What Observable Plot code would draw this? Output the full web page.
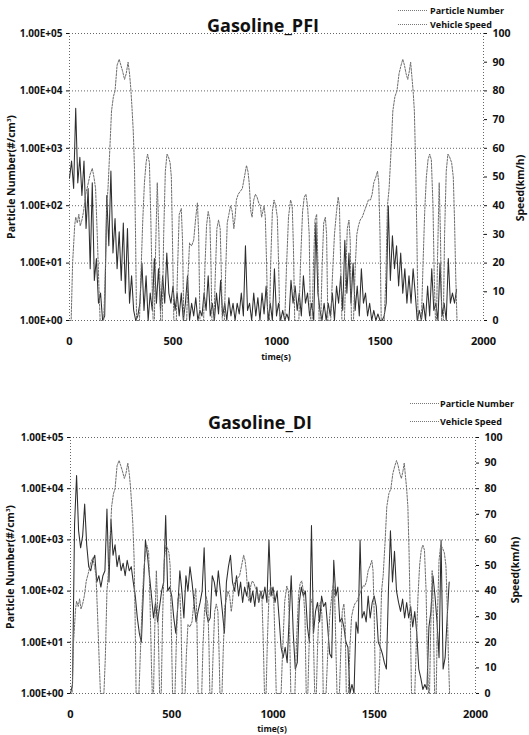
<!DOCTYPE html>
<html><head><meta charset="utf-8">
<script src="https://cdn.jsdelivr.net/npm/d3@7"></script>
<script src="https://cdn.jsdelivr.net/npm/@observablehq/plot@0.6"></script>
<style>
body{margin:0;background:#fff;}
#root{position:relative;width:529px;height:735px;overflow:hidden;font-family:"Open Sans",sans-serif;color:#111;}
.t{position:absolute;font-weight:700;white-space:nowrap;line-height:1;}
.c{transform:translate(-50%,-50%);}
.r{transform:translate(-50%,-50%) rotate(-90deg);}
.lg{position:absolute;height:0;border-top:1.5px dotted #777;}
</style></head><body><div id="root"></div>
<script>
// ---- data ----
const titles = ["Gasoline_PFI", "Gasoline_DI"];
const pnTicks = [1, 10, 100, 1000, 10000, 100000];
const speedTicks = [0, 10, 20, 30, 40, 50, 60, 70, 80, 90, 100];
const timeTicks = [0, 500, 1000, 1500, 2000];

// vehicle speed (km/h) breakpoints: [time s, speed]
const speedTrace = [
 [0,0],[8,0],[15,20],[25,33],[30,36],[38,34],[45,37],[52,33],[60,35],[68,38],[78,44],[88,47],[100,51],[110,53],[118,50],[126,46],[134,30],[142,12],[148,0],
 [165,0],[172,14],[180,40],[186,46],[195,60],[203,73],[212,78],[220,80],[230,89],[240,91],[248,89],[256,87],[266,84],[274,86],[283,90],[290,86],[296,81],[302,74],[308,66],[314,53],[319,30],[324,0],
 [338,0],[346,18],[354,35],[362,48],[370,55],[377,58],[386,55],[393,35],[400,10],[404,0],
 [410,0],[416,25],[424,48],[432,30],[440,0],
 [448,0],[455,30],[463,52],[471,58],[478,57],[486,55],[492,50],[497,30],[504,0],
 [516,0],[522,18],[530,37],[540,39],[546,28],[552,0],
 [566,0],[572,15],[580,27],[590,26],[600,28],[610,36],[618,41],[624,30],[630,0],
 [648,0],[654,18],[662,33],[670,38],[678,35],[684,18],[688,0],
 [698,0],[704,15],[712,32],[720,35],[728,32],[734,15],[738,0],
 [748,0],[754,16],[762,34],[770,37],[778,40],[786,38],[794,32],[800,36],[806,42],[815,44],[825,45],[835,46],[845,50],[855,54],[862,52],[868,48],[876,38],[882,36],[890,42],[898,44],[906,43],[914,41],[922,40],[928,36],[934,38],[940,40],[946,36],[952,20],[958,0],
 [966,0],[972,20],[980,38],[988,42],[996,40],[1004,36],[1010,20],[1016,0],
 [1040,0],[1048,18],[1058,36],[1068,42],[1076,40],[1082,25],[1088,0],
 [1108,0],[1116,20],[1126,38],[1134,43],[1142,44],[1150,40],[1158,30],[1164,0],
 [1172,0],[1178,18],[1186,35],[1194,37],[1200,20],[1206,0],
 [1214,0],[1220,18],[1228,34],[1236,36],[1242,30],[1248,0],
 [1262,0],[1270,15],[1280,30],[1290,38],[1298,43],[1304,40],[1310,20],[1316,0],
 [1328,0],[1334,15],[1342,32],[1350,35],[1356,28],[1362,0],
 [1372,0],[1380,18],[1388,30],[1396,33],[1404,35],[1414,36],[1424,38],[1434,40],[1444,42],[1454,42],[1462,44],[1470,48],[1480,50],[1488,52],[1494,48],[1500,30],[1506,0],
 [1520,0],[1528,14],[1536,40],[1544,46],[1554,60],[1562,73],[1572,78],[1582,80],[1592,86],[1602,89],[1610,91],[1618,89],[1626,86],[1634,84],[1642,87],[1648,90],[1654,85],[1660,80],[1666,73],[1672,55],[1678,30],[1684,0],
 [1700,0],[1708,20],[1716,38],[1724,50],[1732,56],[1740,58],[1748,56],[1756,40],[1762,15],[1768,0],
 [1773,0],[1778,22],[1786,48],[1792,30],[1798,0],
 [1806,0],[1812,30],[1820,52],[1828,58],[1836,57],[1846,55],[1854,50],[1860,35],[1866,15],[1872,0]
];

// particle number (#/cm3), one value every 10 s starting at 0 s
const pnPFI = [
 300,600,200,5000,250,700,150,600,40,200,
 8,250,5,12,2,3,1,1.2,150,20,
 400,15,60,8,35,5,50,3,40,2,
 6,1.5,1,1.2,2,10,1.5,6,1,3,
 1.5,12,2,8,1.5,6,2,15,3,2,
 4,1.5,3,1.2,3,1,2,6,1,2,
 1.2,2.5,1,1.5,1.2,3,1.5,6,1.2,2,
 1,3,1.3,5,1.2,2,1,2.5,1.2,2,
 1,2,1.3,3,1.2,20,1.5,2,1,3,
 1.2,2.5,1,3,1.3,4,1,2,1,8,
 1.2,2,1,1.5,1,1.3,1,5,2,4,
 1.5,3,1.2,6,2,3,1.2,2,1,50,
 3,1.5,1,2,1,2,1.2,3,1,4,
 2,6,1.5,25,3,15,2,10,1.5,4,
 1.2,8,2,3,1.2,2,1,1.5,1,1.3,
 1,1,1.2,2,100,5,30,8,20,4,
 15,3,8,2,6,2,8,3,1,1.5,
 1,2,1,4,1.2,8,1.5,2,1,10,
 1.2,2,1,12,2,3,2,3.5
];
const pnDI = [
 1,1.5,2000,18000,1500,700,1200,5000,800,300,
 250,400,500,150,200,120,200,250,4000,150,
 2500,500,800,300,500,250,350,200,400,250,
 300,150,80,30,15,10,100,1000,500,200,
 80,30,60,25,50,100,150,3000,100,120,
 80,30,15,50,250,100,30,200,100,300,
 150,60,25,40,60,100,700,40,25,30,
 200,150,80,250,100,40,15,150,300,500,
 150,100,200,80,150,60,120,80,150,60,
 100,50,120,60,100,70,120,60,1000,80,
 120,60,100,30,8,5,8,4,30,200,
 15,3,4,60,120,80,100,20,10,1900,
 15,40,60,25,80,50,60,20,6,5,
 400,80,120,25,30,20,10,8,1,1.5,
 1,25,15,1000,30,40,25,80,30,60,
 80,50,10,8,6,4,3,100,1500,150,
 600,100,60,40,70,30,60,30,50,20,
 40,15,3,2,1.2,1.5,1.2,20,40,200,
 80,25,5,1000,3,5,30,150
];

// ---- drawing ----
const FONT = '"Open Sans", "Liberation Sans", sans-serif';
function expFmt(d){ const e = Math.round(Math.log10(d)); return "1.00E+" + (e < 10 ? "0" : "") + e; }
const root = document.getElementById("root");

function addText(txt, x, y, size, cls){
  const el = document.createElement("div");
  el.className = "t " + cls;
  el.style.left = x + "px"; el.style.top = y + "px"; el.style.fontSize = size + "px";
  el.innerHTML = txt; root.appendChild(el);
}
function addLeft(txt, x, y, size){
  const el = document.createElement("div");
  el.className = "t";
  el.style.left = x + "px"; el.style.top = (y - size*0.55) + "px"; el.style.fontSize = size + "px";
  el.textContent = txt; root.appendChild(el);
}
function addLine(x, y, w){
  const el = document.createElement("div");
  el.className = "lg"; el.style.left = x + "px"; el.style.top = y + "px"; el.style.width = w + "px";
  root.appendChild(el);
}

function panel(cfg){
  const common = {width: 529, height: cfg.height, marginTop: cfg.mt, marginBottom: cfg.mb, marginLeft: cfg.ml, marginRight: cfg.mr};
  const st = {fontFamily: FONT, fontSize: "10px", fontWeight: "700", color: "#111", background: "transparent", overflow: "visible"};
  const pnData = cfg.pn.map((v, i) => ({t: i * 10, v}));
  const speedData = speedTrace.map(([t, v]) => ({t, v}));
  const grid = {stroke: "#555", strokeOpacity: 0.9, strokeDasharray: "1,2"};
  const p = Plot.plot({
    ...common, style: st,
    x: {domain: [0, 2000]},
    y: {type: "log", domain: [1, 100000]},
    marks: [
      Plot.gridY(pnTicks, grid),
      Plot.ruleX([0, 2000], grid),
      Plot.line(pnData, {x: "t", y: "v", stroke: "#2e2e2e", strokeWidth: 1.05}),
      Plot.axisY(pnTicks, {tickFormat: expFmt, tickSize: 3, tickPadding: 4, label: null, fontSize: 10}),
      Plot.axisX(timeTicks, {tickFormat: d => String(d), tickSize: 0, tickPadding: 17, label: null, fontSize: 11})
    ]
  });
  const s = Plot.plot({
    ...common, style: st,
    x: {domain: [0, 2000], axis: null},
    y: {domain: [0, 100], axis: null},
    marks: [
      Plot.line(speedData, {x: "t", y: "v", stroke: "#6e6e6e", strokeWidth: 1, strokeDasharray: "2,1.4"}),
      Plot.axisY(speedTicks, {anchor: "right", tickSize: 3, tickPadding: 6, label: null, fontSize: 10.5})
    ]
  });
  for (const svg of [p, s]) {
    svg.style.position = "absolute"; svg.style.left = "0px"; svg.style.top = cfg.top + "px";
    root.appendChild(svg);
  }
  const L = cfg.lab;
  addText(cfg.title, L.titleX, L.titleY, 18, "c");
  addLine(L.legX, L.legY1, 29); addLine(L.legX, L.legY2, 29);
  addLeft("Particle Number", L.legTX, L.legY1 + 1, 9);
  addLeft("Vehicle Speed", L.legTX, L.legY2 + 1, 9);
  addText("Particle Number(#/cm<sup style='font-size:6px;vertical-align:4px'>3</sup>)", L.ylX, L.ylY, 10.5, "r");
  addText("Speed(km/h)", L.srX, L.srY, 10.5, "r");
  addText("time(s)", L.txX, L.txY, 8.5, "c");
}

panel({title: titles[0], pn: pnPFI, top: 0, height: 368, mt: 33, mb: 48, ml: 69, mr: 46,
  lab: {titleX: 263, titleY: 25, legX: 398, legY1: 10, legY2: 24, legTX: 430, ylX: 11, ylY: 177, srX: 520, srY: 188, txX: 276, txY: 357}});
panel({title: titles[1], pn: pnDI, top: 368, height: 367, mt: 69, mb: 42, ml: 70, mr: 54,
  lab: {titleX: 260, titleY: 422, legX: 410, legY1: 403, legY2: 421, legTX: 440, ylX: 10, ylY: 567, srX: 515, srY: 570, txX: 272, txY: 729}});
</script></body></html>
